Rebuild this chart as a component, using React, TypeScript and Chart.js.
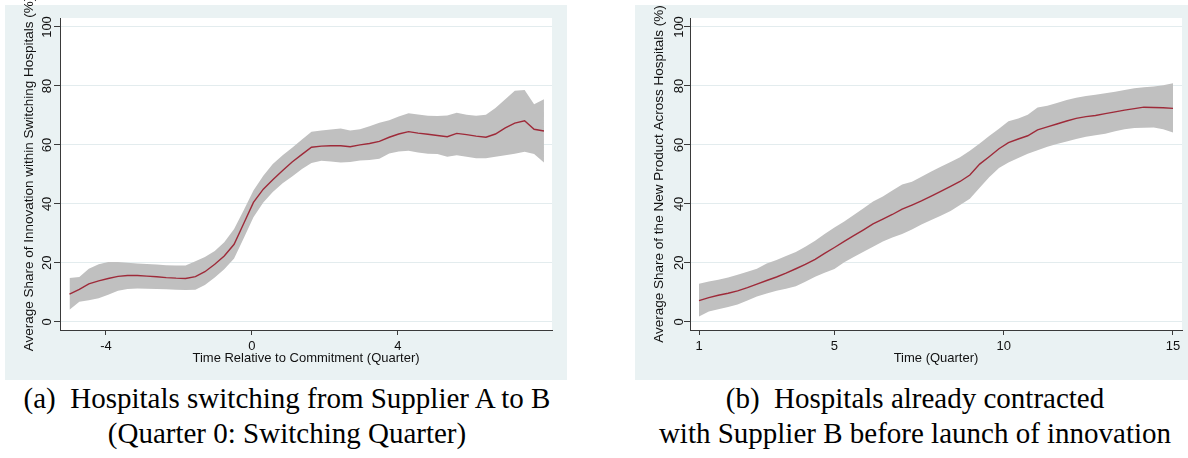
import React, { useEffect, useRef } from 'react';
import { Chart, registerables } from 'chart.js';

Chart.register(...registerables);

// ---------- data ----------
const yTicks = [0, 20, 40, 60, 80, 100];

const xA = [-5.0, -4.73, -4.47, -4.2, -3.94, -3.67, -3.41, -3.14, -2.88, -2.61, -2.35, -2.08, -1.82, -1.55, -1.29, -1.02, -0.76, -0.49, -0.22, 0.04, 0.31, 0.57, 0.84, 1.1, 1.37, 1.63, 1.9, 2.16, 2.43, 2.69, 2.96, 3.22, 3.49, 3.76, 4.02, 4.29, 4.55, 4.82, 5.08, 5.35, 5.61, 5.88, 6.14, 6.41, 6.67, 6.94, 7.2, 7.47, 7.73, 8.0];
const meanA = [9.4, 11.0, 12.9, 13.9, 14.7, 15.4, 15.7, 15.7, 15.5, 15.3, 15.0, 14.8, 14.7, 15.3, 17.0, 19.5, 22.3, 26.3, 33.5, 40.5, 45.0, 48.2, 51.3, 54.2, 56.8, 59.2, 59.6, 59.7, 59.7, 59.4, 60.0, 60.5, 61.2, 62.6, 63.7, 64.5, 64.0, 63.6, 63.2, 62.8, 63.9, 63.5, 63.0, 62.6, 63.7, 65.8, 67.4, 68.2, 65.3, 64.7];
const upperA = [14.9, 15.2, 18.0, 19.5, 20.3, 20.3, 20.0, 19.8, 19.6, 19.4, 19.2, 19.1, 19.1, 20.5, 22.0, 24.0, 27.0, 31.5, 38.0, 44.5, 49.5, 53.5, 56.5, 59.0, 61.8, 64.5, 64.9, 65.2, 65.6, 64.9, 65.3, 66.3, 67.5, 68.4, 69.6, 70.7, 70.3, 69.9, 69.8, 70.0, 70.9, 70.2, 69.9, 70.2, 72.5, 75.5, 78.4, 78.6, 73.8, 75.5];
const lowerA = [4.1, 6.8, 7.3, 8.0, 9.2, 10.5, 11.1, 11.3, 11.2, 11.1, 11.0, 10.9, 10.8, 10.9, 12.5, 15.0, 17.8, 21.5, 28.5, 35.5, 40.5, 44.0, 47.0, 49.3, 51.8, 53.9, 54.6, 54.4, 54.0, 54.2, 54.7, 54.9, 55.3, 57.1, 57.8, 58.0, 57.4, 57.0, 56.9, 56.0, 56.5, 56.0, 55.5, 55.5, 56.0, 56.5, 57.0, 57.7, 56.9, 54.0];
const xTicksA = [-4, 0, 4];

const xB = [1.0, 1.29, 1.57, 1.86, 2.14, 2.43, 2.71, 3.0, 3.29, 3.57, 3.86, 4.14, 4.43, 4.71, 5.0, 5.29, 5.57, 5.86, 6.14, 6.43, 6.71, 7.0, 7.29, 7.57, 7.86, 8.14, 8.43, 8.71, 9.0, 9.29, 9.57, 9.86, 10.14, 10.43, 10.71, 11.0, 11.29, 11.57, 11.86, 12.14, 12.43, 12.71, 13.0, 13.29, 13.57, 13.86, 14.14, 14.43, 14.71, 15.0];
const meanB = [7.2, 8.2, 9.0, 9.7, 10.5, 11.6, 12.8, 14.0, 15.2, 16.5, 18.0, 19.5, 21.2, 23.2, 25.2, 27.3, 29.2, 31.2, 33.2, 34.8, 36.4, 38.2, 39.6, 41.0, 42.6, 44.2, 45.9, 47.6, 49.8, 53.5, 56.0, 58.7, 60.8, 62.0, 63.1, 65.1, 66.1, 67.1, 68.1, 69.0, 69.6, 70.0, 70.6, 71.2, 71.8, 72.3, 72.8, 72.7, 72.6, 72.4];
const upperB = [12.9, 13.7, 14.3, 15.0, 16.0, 17.0, 18.0, 19.8, 21.0, 22.3, 23.7, 25.5, 27.5, 29.8, 32.0, 34.0, 36.2, 38.5, 40.8, 42.5, 44.5, 46.6, 47.5, 49.2, 51.0, 52.6, 54.2, 55.8, 58.0, 60.5, 63.0, 65.5, 68.0, 69.0, 70.2, 72.7, 73.3, 74.2, 75.2, 76.0, 76.6, 77.0, 77.5, 78.0, 78.6, 79.2, 79.6, 79.8, 80.2, 80.9];
const lowerB = [1.8, 3.5, 4.3, 5.0, 5.9, 7.2, 8.6, 9.6, 10.5, 11.2, 12.1, 13.6, 15.3, 16.6, 17.9, 20.2, 22.0, 23.8, 25.5, 27.2, 28.6, 29.8, 31.3, 33.0, 34.5, 36.0, 37.6, 39.6, 41.7, 45.5, 49.0, 52.2, 54.0, 55.6, 57.0, 58.2, 59.4, 60.3, 61.2, 62.0, 62.8, 63.3, 63.8, 64.6, 65.3, 65.7, 65.8, 65.9, 65.3, 64.2];
const xTicksB = [1, 5, 10, 15];

const yTitleA = 'Average Share of Innovation within Switching Hospitals (%)';
const xTitleA = 'Time Relative to Commitment (Quarter)';
const yTitleB = 'Average Share of the New Product Across Hospitals (%)';
const xTitleB = 'Time (Quarter)';
const captionA = ['(a)\u2002Hospitals switching from Supplier A to B', '(Quarter 0: Switching Quarter)'];
const captionB = ['(b)\u2002Hospitals already contracted', 'with Supplier B before launch of innovation'];

// ---------- styles ----------
const PANEL_BG = '#EAF2F3';
const GRID = '#E3ECEE';
const AXIS = '#3a3a3a';
const BAND = '#C0C0C0';
const LINE = '#9E2A39';
const TEXT = '#111111';
const SANS = '"Liberation Sans", Arial, sans-serif';

type PanelProps = {
  canvasLeft: number;
  canvasWidth: number;
  bgLeft: number;
  bgWidth: number;
  xs: number[];
  mean: number[];
  upper: number[];
  lower: number[];
  xTicks: number[];
  xMin: number;
  xMax: number;
  yAxisW: number;
  padRight: number;
  yLabelOff: number;
  yTitle: string;
  xTitle: string;
};

const CANVAS_H = 380;
const PAD_TOP = 18;
const X_AXIS_H = 50;

function Panel(p: PanelProps) {
  const ref = useRef<HTMLCanvasElement>(null);
  useEffect(() => {
    const pts = (ys: number[]) => p.xs.map((x, i) => ({ x, y: ys[i] }));
    const textPlugin = {
      id: 'stataText',
      beforeDraw(chart: any) {
        const { ctx, chartArea: a } = chart;
        ctx.save();
        ctx.fillStyle = '#ffffff';
        ctx.fillRect(a.left, a.top, a.right - a.left, a.bottom - a.top);
        ctx.restore();
      },
      afterDraw(chart: any) {
        const { ctx, chartArea: a } = chart;
        const ys = chart.scales.y;
        const xsc = chart.scales.x;
        ctx.save();
        ctx.fillStyle = TEXT;
        ctx.font = `13px ${SANS}`;
        // y tick labels, rotated
        yTicks.forEach((v) => {
          const y = ys.getPixelForValue(v);
          ctx.save();
          ctx.translate(a.left - p.yLabelOff, y);
          ctx.rotate(-Math.PI / 2);
          ctx.textAlign = 'center';
          ctx.textBaseline = 'alphabetic';
          ctx.fillText(String(v), 0, 0);
          ctx.restore();
        });
        // y title
        ctx.save();
        ctx.font = `13.5px ${SANS}`;
        ctx.translate(a.left - 26.7, (a.top + a.bottom) / 2);
        ctx.rotate(-Math.PI / 2);
        ctx.textAlign = 'center';
        ctx.textBaseline = 'alphabetic';
        ctx.fillText(p.yTitle, 0, 0);
        ctx.restore();
        // x tick labels
        ctx.textAlign = 'center';
        ctx.textBaseline = 'alphabetic';
        p.xTicks.forEach((v) => {
          ctx.fillText(String(v), xsc.getPixelForValue(v), a.bottom + 20);
        });
        // x title
        ctx.fillText(p.xTitle, (a.left + a.right) / 2, a.bottom + 32);
        ctx.restore();
      },
    };
    const chart = new Chart(ref.current as HTMLCanvasElement, {
      type: 'line',
      data: {
        datasets: [
          { data: pts(p.mean), borderColor: LINE, borderWidth: 1.4, pointRadius: 0, fill: false, tension: 0 },
          { data: pts(p.upper), borderColor: 'rgba(0,0,0,0)', borderWidth: 0, backgroundColor: BAND, pointRadius: 0, fill: '+1', tension: 0 },
          { data: pts(p.lower), borderColor: 'rgba(0,0,0,0)', borderWidth: 0, pointRadius: 0, fill: false, tension: 0 },
        ],
      },
      options: {
        responsive: false,
        animation: false,
        events: [],
        layout: { padding: { left: 0, top: PAD_TOP, right: p.padRight, bottom: 0 } },
        plugins: { legend: { display: false }, tooltip: { enabled: false } },
        scales: {
          x: {
            type: 'linear',
            min: p.xMin,
            max: p.xMax,
            afterBuildTicks: (s: any) => {
              s.ticks = p.xTicks.map((v) => ({ value: v }));
            },
            afterFit: (s: any) => {
              s.height = X_AXIS_H;
            },
            ticks: { display: false },
            grid: { drawOnChartArea: false, drawTicks: true, tickLength: 5, tickColor: AXIS, tickWidth: 1 },
            border: { display: true, color: AXIS, width: 1 },
          },
          y: {
            type: 'linear',
            min: -2.78,
            max: 103.05,
            afterBuildTicks: (s: any) => {
              s.ticks = yTicks.map((v) => ({ value: v }));
            },
            afterFit: (s: any) => {
              s.width = p.yAxisW;
            },
            ticks: { display: false },
            grid: { color: GRID, lineWidth: 1, drawTicks: true, tickLength: 6, tickColor: AXIS, tickWidth: 1 },
            border: { display: true, color: AXIS, width: 1 },
          },
        },
      } as any,
      plugins: [textPlugin],
    });
    return () => chart.destroy();
  }, []);
  return (
    <>
      <div
        style={{ position: 'absolute', left: p.bgLeft, top: 5, width: p.bgWidth, height: 375, background: PANEL_BG }}
      />
      <canvas
        ref={ref}
        width={p.canvasWidth}
        height={CANVAS_H}
        style={{ position: 'absolute', left: p.canvasLeft, top: 0, width: p.canvasWidth, height: CANVAS_H }}
      />
    </>
  );
}

function Caption({ lines, left, width }: { lines: string[]; left: number; width: number }) {
  return (
    <div
      style={{
        position: 'absolute',
        left,
        top: 381,
        width,
        textAlign: 'center',
        fontFamily: '"Liberation Serif", "Times New Roman", serif',
        fontSize: 29,
        lineHeight: '35px',
        color: '#000',
        whiteSpace: 'pre',
      }}
    >
      {lines.map((l, i) => (
        <div key={i}>{l}</div>
      ))}
    </div>
  );
}

export default function App() {
  return (
    <div style={{ position: 'absolute', left: 0, top: 0, width: 1188, height: 458, background: '#fff', overflow: 'hidden' }}>
      <Panel
        canvasLeft={0}
        canvasWidth={567}
        bgLeft={5}
        bgWidth={562}
        xs={xA}
        mean={meanA}
        upper={upperA}
        lower={lowerA}
        xTicks={xTicksA}
        xMin={-5.26}
        xMax={8.22}
        yAxisW={60}
        padRight={15}
        yLabelOff={9.3}
        yTitle={yTitleA}
        xTitle={xTitleA}
      />
      <Panel
        canvasLeft={620}
        canvasWidth={568}
        bgLeft={635}
        bgWidth={553}
        xs={xB}
        mean={meanB}
        upper={upperB}
        lower={lowerB}
        xTicks={xTicksB}
        xMin={0.734}
        xMax={15.266}
        yAxisW={70}
        padRight={6}
        yLabelOff={6.7}
        yTitle={yTitleB}
        xTitle={xTitleB}
      />
      <Caption lines={captionA} left={0} width={574} />
      <Caption lines={captionB} left={640} width={550} />
    </div>
  );
}
